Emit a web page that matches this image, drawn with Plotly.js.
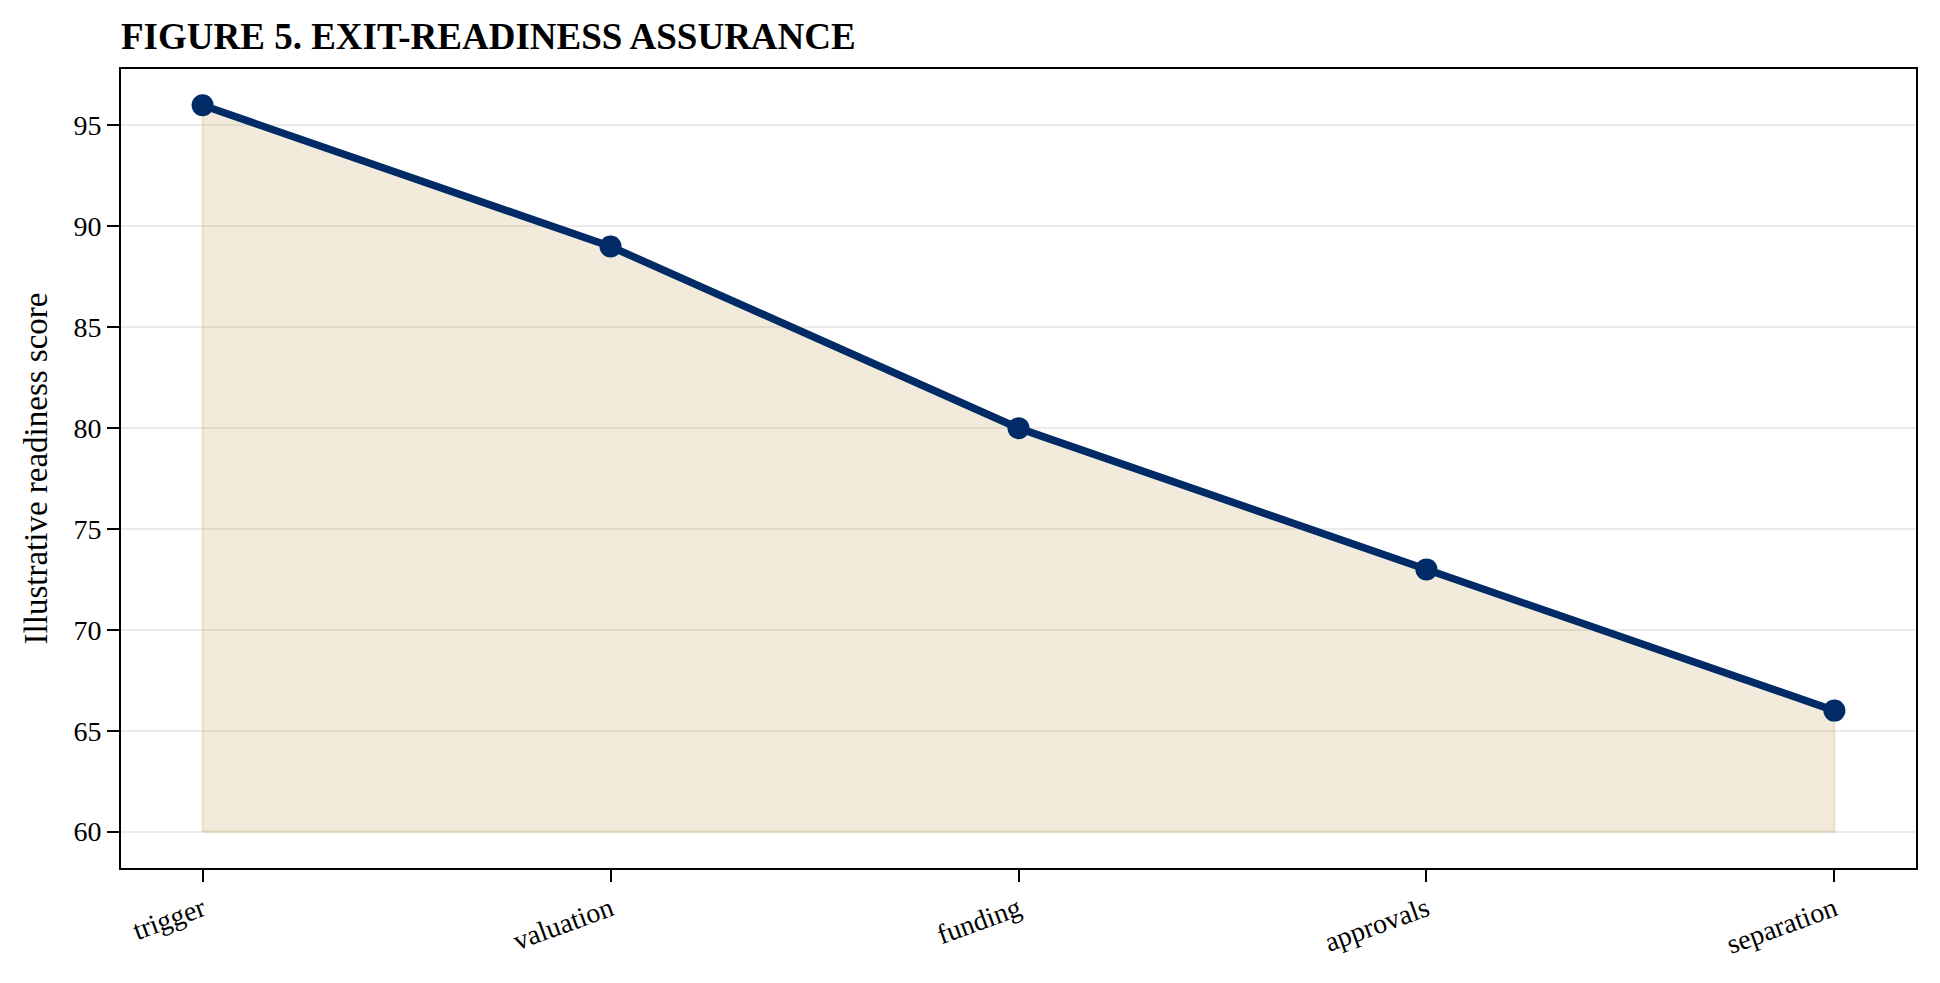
<!DOCTYPE html>
<html>
<head>
<meta charset="utf-8">
<script src="https://cdn.plot.ly/plotly-3.0.1.min.js"></script>
<style>
  html, body { margin: 0; padding: 0; background: #ffffff; }
  #grafico { width: 1940px; height: 983px; }
</style>
</head>
<body>
<div id="grafico"></div>
<script>
// dados do grafico
let etapas = ['trigger', 'valuation', 'funding', 'approvals', 'separation']; // categorias do eixo x
let pontuacao = [96, 89, 80, 73, 66]; // pontuacao ilustrativa
let piso = [60, 60, 60, 60, 60]; // base da area preenchida
let ticksY = [60, 65, 70, 75, 80, 85, 90, 95];

let fonte = 'Liberation Serif, Times New Roman, serif';

// traco da base para a area (contorno fraco)
var tracoBase = {
  x: etapas,
  y: piso,
  type: 'scatter',
  mode: 'lines',
  line: { width: 3, color: 'rgba(190,155,75,0.18)' },
  hoverinfo: 'skip',
  showlegend: false
};

// area preenchida ate a linha
var tracoArea = {
  x: etapas,
  y: pontuacao,
  type: 'scatter',
  mode: 'lines',
  fill: 'tonexty',
  fillcolor: 'rgba(190,155,75,0.2)',
  line: { width: 3, color: 'rgba(190,155,75,0.18)' },
  hoverinfo: 'skip',
  showlegend: false
};

// laterais da area
var tracoLados = {
  x: [etapas[0], etapas[0], null, etapas[4], etapas[4]],
  y: [piso[0], pontuacao[0], null, piso[4], pontuacao[4]],
  type: 'scatter',
  mode: 'lines',
  line: { width: 3, color: 'rgba(190,155,75,0.18)' },
  hoverinfo: 'skip',
  showlegend: false
};

// linha principal com marcadores
var tracoLinha = {
  x: etapas,
  y: pontuacao,
  type: 'scatter',
  mode: 'lines+markers',
  line: { width: 7.5, color: '#002b66' },
  marker: { size: 22, color: '#002b66' },
  showlegend: false
};

var data = [tracoBase, tracoArea, tracoLados, tracoLinha];

var layout = {
  width: 1940,
  height: 983,
  margin: { l: 121, r: 24, t: 69, b: 115 },
  paper_bgcolor: '#ffffff',
  plot_bgcolor: '#ffffff',
  font: { family: fonte, color: '#000000', size: 28 },
  title: {
    text: '<b>FIGURE 5. EXIT-READINESS ASSURANCE</b>',
    font: { family: fonte, size: 37, color: '#000000' },
    xref: 'paper',
    x: 0,
    xanchor: 'left',
    yref: 'container',
    y: 0.963,
    yanchor: 'middle'
  },
  xaxis: {
    type: 'category',
    range: [-0.2, 4.2],
    showgrid: false,
    zeroline: false,
    showline: true,
    mirror: true,
    linecolor: '#000000',
    linewidth: 2,
    ticks: 'outside',
    ticklen: 12,
    tickwidth: 2,
    tickcolor: '#000000',
    tickangle: -20,
    tickfont: { family: fonte, size: 28, color: '#000000' }
  },
  yaxis: {
    range: [58.2, 97.8],
    tickvals: ticksY,
    showgrid: true,
    gridcolor: '#ebebeb',
    gridwidth: 2,
    zeroline: false,
    showline: true,
    mirror: true,
    linecolor: '#000000',
    linewidth: 2,
    ticks: 'outside',
    ticklen: 12,
    tickwidth: 2,
    tickcolor: '#000000',
    tickfont: { family: fonte, size: 28, color: '#000000' },
    title: {
      text: 'Illustrative readiness score',
      font: { family: fonte, size: 33, color: '#000000' },
      standoff: 16
    }
  }
};

Plotly.newPlot('grafico', data, layout, { displayModeBar: false, staticPlot: true });
</script>
</body>
</html>
